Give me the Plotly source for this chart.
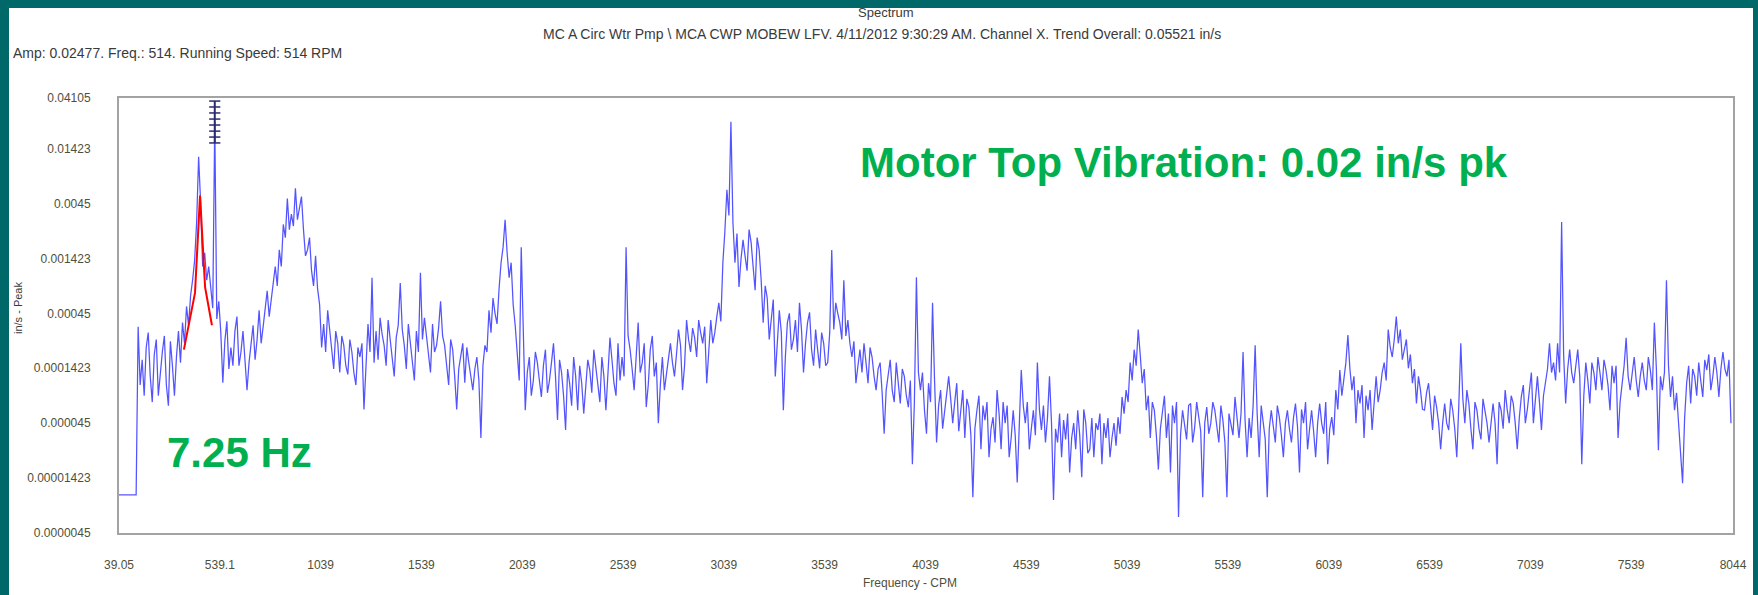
import plotly.graph_objects as go

# ---------------- data ----------------
freq_start = 34.0      # CPM of first spectral line
freq_step = 10.0       # CPM between lines

# amplitudes (in/s pk) on the even lines, one list per ~1000 CPM
amp_0_1000 = [1.0e-5, 1.0e-5, 1.0e-5, 1.0e-5, 1.0e-5, 3.4e-4, 1.7e-4, 2.2e-4, 1.2e-4, 1.9e-4,
              8.0e-5, 2.0e-4, 1.0e-4, 2.5e-4, 8.0e-5, 3.1e-4, 3.7e-4, 5.2e-4, 6.5e-4, 1.35e-3,
              1.2e-2, 1.2e-3, 9.0e-4, 7.2e-4, 2.477e-2, 5.8e-4, 1.05e-4, 3.8e-4, 2.2e-4, 3.1e-4,
              1.5e-4, 3.1e-4, 9.0e-5, 2.5e-4, 1.7e-4, 4.8e-4, 3.4e-4, 7.2e-4, 5.8e-4, 1.2e-3,
              1.7e-3, 2.9e-3, 5.0e-3, 3.6e-3, 6.2e-3, 4.3e-3, 2.6e-3, 1.7e-3, 1.1e-3, 1.5e-3]
amp_1000_2000 = [5.4e-4, 3.6e-4, 4.8e-4, 2.3e-4, 3.1e-4, 1.3e-4, 2.3e-4, 1.25e-4, 2.0e-4, 1.0e-4,
                 1.8e-4, 6.0e-5, 3.6e-4, 9.5e-4, 3.1e-4, 4.1e-4, 2.3e-4, 3.9e-4, 1.8e-4, 2.7e-4,
                 8.5e-4, 2.3e-4, 3.6e-4, 1.8e-4, 3.1e-4, 1.05e-3, 4.1e-4, 2.0e-4, 3.6e-4, 2.3e-4,
                 5.8e-4, 2.3e-4, 1.0e-4, 2.1e-4, 6.0e-5, 1.8e-4, 1.05e-4, 1.6e-4, 9.0e-5, 1.8e-4,
                 3.3e-5, 2.3e-4, 4.8e-4, 6.2e-4, 3.6e-4, 1.3e-3, 3.2e-3, 9.5e-4, 5.4e-4, 2.0e-4]
amp_2000_3000 = [1.8e-3, 5.9e-5, 1.8e-4, 1.1e-4, 1.6e-4, 7.8e-5, 2.1e-4, 1.1e-4, 2.4e-4, 4.8e-5,
                 1.3e-4, 3.9e-5, 1.04e-4, 1.8e-4, 5.9e-5, 1.04e-4, 9.0e-5, 1.37e-4, 2.1e-4, 1.04e-4,
                 1.8e-4, 5.9e-5, 2.7e-4, 1.04e-4, 2.4e-4, 1.8e-4, 1.8e-3, 2.1e-4, 9.0e-5, 3.7e-4,
                 1.6e-4, 6.3e-5, 2.1e-4, 1.2e-4, 4.5e-5, 1.8e-4, 1.3e-4, 2.4e-4, 1.2e-4, 3.2e-4,
                 9.0e-5, 3.9e-4, 2.0e-4, 2.7e-4, 3.9e-4, 2.4e-4, 1.04e-4, 3.9e-4, 3.0e-4, 5.6e-4]
amp_3000_4000 = [1.3e-3, 6.0e-3, 2.5e-2, 1.3e-3, 7.8e-4, 2.1e-3, 1.1e-3, 2.0e-3, 7.3e-4, 1.7e-3,
                 3.7e-4, 6.2e-4, 4.2e-4, 1.2e-4, 4.8e-4, 5.9e-5, 3.7e-4, 2.1e-4, 3.9e-4, 5.6e-4,
                 1.3e-4, 3.7e-4, 2.1e-4, 3.2e-4, 1.42e-4, 2.4e-4, 1.6e-4, 1.7e-3, 5.6e-4, 3.7e-4,
                 9.0e-4, 3.9e-4, 1.8e-4, 1.04e-4, 2.1e-4, 2.4e-4, 1.04e-4, 1.8e-4, 9.0e-5, 1.6e-4,
                 3.6e-5, 1.3e-4, 9.0e-5, 1.6e-4, 6.8e-5, 1.2e-4, 6.3e-5, 1.9e-5, 9.6e-4, 9.0e-5]
amp_4000_5000 = [5.9e-5, 1.04e-4, 5.6e-4, 3.0e-5, 9.0e-5, 5.9e-5, 1.2e-4, 4.5e-5, 1.04e-4, 5.9e-5,
                 3.3e-5, 6.3e-5, 9.5e-6, 5.9e-5, 2.6e-5, 4.8e-5, 2.2e-5, 5.1e-5, 9.0e-5, 2.6e-5,
                 4.5e-5, 2.2e-5, 5.9e-5, 1.3e-5, 1.37e-4, 4.5e-5, 2.6e-5, 5.9e-5, 1.6e-4, 3.9e-5,
                 3.0e-5, 1.2e-4, 9.0e-6, 3.0e-5, 2.2e-5, 3.2e-5, 1.6e-5, 4.5e-5, 5.9e-5, 1.45e-5,
                 4.5e-5, 2.6e-5, 2.2e-5, 3.9e-5, 1.9e-5, 3.3e-5, 2.2e-5, 4.5e-5, 5.1e-5, 7.8e-5]
amp_5000_6000 = [9.0e-5, 1.6e-4, 2.1e-4, 3.2e-4, 1.04e-4, 5.9e-5, 3.3e-5, 5.9e-5, 1.7e-5, 5.9e-5,
                 3.3e-5, 1.6e-5, 4.5e-5, 6.3e-6, 5.9e-5, 3.2e-5, 6.8e-5, 4.1e-5, 5.1e-5, 9.5e-6,
                 6.3e-5, 4.5e-5, 5.9e-5, 3.0e-5, 4.8e-5, 9.5e-6, 4.5e-5, 7.8e-5, 3.3e-5, 2.0e-4,
                 2.2e-5, 3.3e-5, 2.3e-4, 2.2e-5, 4.5e-5, 9.5e-6, 5.9e-5, 3.0e-5, 5.1e-5, 2.2e-5,
                 5.9e-5, 3.0e-5, 6.8e-5, 1.6e-5, 4.5e-5, 2.6e-5, 5.9e-5, 2.2e-5, 6.8e-5, 3.6e-5]
amp_6000_7000 = [1.9e-5, 5.1e-5, 9.0e-5, 1.37e-4, 1.2e-4, 2.85e-4, 9.0e-5, 4.5e-5, 6.8e-5, 3.3e-5,
                 5.9e-5, 3.9e-5, 1.2e-4, 9.0e-5, 1.6e-4, 3.2e-4, 1.8e-4, 4.2e-4, 3.2e-4, 2.1e-4,
                 1.42e-4, 1.04e-4, 6.8e-5, 9.0e-5, 5.9e-5, 1.04e-4, 3.9e-5, 6.3e-5, 2.6e-5, 6.8e-5,
                 3.9e-5, 5.9e-5, 2.2e-5, 2.4e-4, 4.5e-5, 6.8e-5, 2.6e-5, 5.9e-5, 3.2e-5, 5.9e-5,
                 3.0e-5, 6.8e-5, 1.9e-5, 5.9e-5, 9.0e-5, 4.5e-5, 6.8e-5, 2.6e-5, 7.8e-5, 4.5e-5]
amp_7000_8044 = [9.0e-5, 4.5e-5, 1.2e-4, 3.9e-5, 1.04e-4, 2.4e-4, 1.6e-4, 2.4e-4, 3.05e-3, 6.8e-5,
                 2.1e-4, 1.04e-4, 2.1e-4, 1.9e-5, 1.6e-4, 6.8e-5, 1.3e-4, 1.8e-4, 9.0e-5, 1.37e-4,
                 5.9e-5, 1.04e-4, 3.3e-5, 1.04e-4, 2.7e-4, 9.0e-5, 1.8e-4, 7.8e-5, 1.6e-4, 9.0e-5,
                 1.37e-4, 3.7e-4, 2.55e-5, 9.0e-5, 9.0e-4, 7.8e-5, 5.9e-5, 4.5e-5, 1.28e-5, 1.04e-4,
                 6.8e-5, 1.2e-4, 1.6e-4, 7.8e-5, 1.37e-4, 9.0e-5, 1.8e-4, 7.8e-5, 2.0e-4, 1.2e-4,
                 4.5e-5]

# amplitudes on the odd lines (between the even lines above)
mid_0_1000 = [1.0e-5, 1.0e-5, 1.0e-5, 1.0e-5, 1.0e-5, 1.0e-4, 8.0e-5, 3.0e-4, 7.0e-5, 2.6e-4,
              1.3e-4, 2.8e-4, 6.5e-5, 1.5e-4, 1.8e-4, 1.6e-4, 2.4e-4, 3.5e-4, 9.0e-4, 3.0e-3,
              4.5e-3, 1.6e-3, 1.2e-3, 5.0e-4, 4.0e-4, 3.0e-4, 2.5e-4, 1.4e-4, 1.5e-4, 4.2e-4,
              2.0e-4, 1.8e-4, 1.6e-4, 3.5e-4, 2.6e-4, 2.4e-4, 5.0e-4, 4.2e-4, 8.5e-4, 8.0e-4,
              1.2e-3, 2.2e-3, 2.6e-3, 2.8e-3, 3.2e-3, 5.2e-3, 1.5e-3, 2.2e-3, 8.0e-4, 7.5e-4]
mid_1000_2000 = [2.2e-4, 2.0e-4, 3.2e-4, 1.4e-4, 2.4e-4, 2.8e-4, 1.5e-4, 2.6e-4, 1.3e-4, 2.2e-4,
                 2.4e-4, 1.8e-4, 2.0e-4, 1.6e-4, 1.7e-4, 2.9e-4, 1.5e-4, 2.6e-4, 1.2e-4, 3.5e-4,
                 3.2e-4, 1.4e-4, 2.5e-4, 1.1e-4, 2.0e-4, 2.6e-4, 2.8e-4, 1.3e-4, 2.0e-4, 3.3e-4,
                 2.8e-4, 1.5e-4, 2.6e-4, 1.2e-4, 1.4e-4, 2.4e-4, 2.2e-4, 1.2e-4, 1.4e-4, 1.1e-4,
                 1.5e-4, 2.0e-4, 3.0e-4, 4.5e-4, 7.5e-4, 1.8e-3, 1.6e-3, 1.3e-3, 3.5e-4, 1.1e-4]
mid_2000_3000 = [2.4e-4, 1.3e-4, 8.0e-5, 2.0e-4, 1.1e-4, 1.5e-4, 8.5e-5, 1.6e-4, 1.2e-4, 1.7e-4,
                 8.0e-5, 1.4e-4, 6.5e-5, 1.2e-4, 1.5e-4, 5.5e-5, 1.7e-4, 8.5e-5, 1.4e-4, 7.0e-5,
                 1.2e-4, 1.5e-4, 1.7e-4, 8.0e-5, 1.1e-4, 1.2e-4, 2.8e-4, 1.4e-4, 1.8e-4, 1.3e-4,
                 2.4e-4, 1.0e-4, 2.8e-4, 1.6e-4, 1.0e-4, 9.0e-5, 1.9e-4, 1.6e-4, 1.9e-4, 2.3e-4,
                 1.5e-4, 2.6e-4, 3.3e-4, 1.8e-4, 3.0e-4, 3.4e-4, 2.0e-4, 2.4e-4, 4.2e-4, 3.8e-4]
mid_3000_4000 = [2.5e-3, 3.5e-3, 3.0e-3, 2.4e-3, 1.4e-3, 1.5e-3, 2.6e-3, 1.2e-3, 2.2e-3, 9.0e-4,
                 8.0e-4, 2.6e-4, 6.0e-4, 2.4e-4, 3.0e-4, 1.8e-4, 4.5e-4, 2.6e-4, 2.0e-4, 3.2e-4,
                 2.4e-4, 4.6e-4, 1.5e-4, 2.1e-4, 3.0e-4, 1.5e-4, 3.0e-4, 3.2e-4, 4.5e-4, 2.6e-4,
                 2.8e-4, 2.4e-4, 2.5e-4, 1.5e-4, 1.3e-4, 1.6e-4, 2.2e-4, 1.2e-4, 1.4e-4, 8.5e-5,
                 9.0e-5, 1.7e-4, 7.0e-5, 1.1e-4, 1.4e-4, 8.0e-5, 1.1e-4, 7.0e-5, 1.3e-4, 1.3e-4]
mid_4000_5000 = [3.6e-5, 7.0e-5, 1.1e-4, 6.5e-5, 4.0e-5, 8.5e-5, 7.5e-5, 7.0e-5, 3.8e-5, 9.0e-5,
                 7.5e-5, 3.5e-5, 4.0e-5, 8.0e-5, 6.5e-5, 7.0e-5, 4.0e-5, 3.0e-5, 5.5e-5, 7.0e-5,
                 6.5e-5, 3.3e-5, 3.5e-5, 5.0e-5, 6.5e-5, 7.0e-5, 4.0e-5, 3.5e-5, 6.0e-5, 6.5e-5,
                 5.0e-5, 4.5e-5, 4.0e-5, 5.5e-5, 4.8e-5, 5.5e-5, 3.3e-5, 2.6e-5, 3.5e-5, 6.0e-5,
                 2.4e-5, 5.0e-5, 4.5e-5, 5.5e-5, 4.5e-5, 5.0e-5, 3.3e-5, 2.8e-5, 3.6e-5, 5.5e-5]
mid_5000_6000 = [7.0e-5, 1.1e-4, 1.5e-4, 1.9e-4, 1.4e-4, 8.0e-5, 7.0e-5, 3.5e-5, 4.0e-5, 8.0e-5,
                 5.5e-5, 6.5e-5, 7.0e-5, 3.5e-5, 4.5e-5, 6.5e-5, 3.0e-5, 7.0e-5, 3.8e-5, 4.5e-5,
                 3.6e-5, 7.0e-5, 4.0e-5, 6.5e-5, 3.0e-5, 5.5e-5, 3.5e-5, 5.0e-5, 5.5e-5, 4.8e-5,
                 5.0e-5, 6.5e-5, 5.5e-5, 6.5e-5, 3.2e-5, 4.0e-5, 4.0e-5, 6.5e-5, 3.5e-5, 4.5e-5,
                 4.0e-5, 5.0e-5, 4.2e-5, 6.0e-5, 7.0e-5, 4.0e-5, 3.8e-5, 4.5e-5, 4.5e-5, 7.0e-5]
mid_6000_7000 = [4.0e-5, 3.5e-5, 6.0e-5, 8.0e-5, 1.6e-4, 1.4e-4, 1.2e-4, 9.0e-5, 1.0e-4, 8.0e-5,
                 9.0e-5, 7.5e-5, 7.0e-5, 1.3e-4, 1.1e-4, 2.2e-4, 2.6e-4, 2.4e-4, 1.7e-4, 2.6e-4,
                 1.9e-4, 1.4e-4, 1.2e-4, 6.0e-5, 8.5e-5, 6.5e-5, 8.0e-5, 4.5e-5, 4.5e-5, 4.5e-5,
                 7.5e-5, 4.0e-5, 6.5e-5, 7.5e-5, 9.0e-5, 4.0e-5, 7.0e-5, 4.0e-5, 7.5e-5, 4.5e-5,
                 4.8e-5, 4.5e-5, 7.0e-5, 4.0e-5, 6.0e-5, 8.0e-5, 4.5e-5, 5.0e-5, 1.0e-4, 6.0e-5]
mid_7000_8044 = [1.3e-4, 7.5e-5, 7.0e-5, 8.0e-5, 1.4e-4, 1.3e-4, 1.1e-4, 1.3e-4, 1.9e-4, 1.4e-4,
                 1.3e-4, 1.5e-4, 1.2e-4, 8.0e-5, 1.1e-4, 1.6e-4, 9.0e-5, 1.3e-4, 1.7e-4, 1.0e-4,
                 1.5e-4, 1.5e-4, 7.0e-5, 1.5e-4, 1.2e-4, 1.3e-4, 1.1e-4, 1.2e-4, 1.1e-4, 1.8e-4,
                 9.0e-5, 1.4e-4, 1.2e-4, 1.3e-4, 1.5e-4, 1.2e-4, 8.5e-5, 3.0e-5, 5.0e-5, 1.5e-4,
                 1.4e-4, 8.0e-5, 1.1e-4, 1.7e-4, 1.9e-4, 1.2e-4, 1.3e-4, 1.4e-4, 1.4e-4, 1.7e-4]

even_lines = (amp_0_1000 + amp_1000_2000 + amp_2000_3000 + amp_3000_4000 +
              amp_4000_5000 + amp_5000_6000 + amp_6000_7000 + amp_7000_8044)
odd_lines = (mid_0_1000 + mid_1000_2000 + mid_2000_3000 + mid_3000_4000 +
             mid_4000_5000 + mid_5000_6000 + mid_6000_7000 + mid_7000_8044)

amplitude = []
for k, a in enumerate(even_lines):
    amplitude.append(a)
    if k < len(odd_lines):
        amplitude.append(odd_lines[k])
frequency = [freq_start + freq_step * i for i in range(len(amplitude))]

# hand-drawn red peak outline near 7.25 Hz
red_freq = [361, 416, 441, 466, 500]
red_amp = [2.1e-4, 6.9e-4, 5.3e-3, 7.8e-4, 3.5e-4]

# cursor at running speed
cursor_freq = 514
cursor_amps = [0.0385, 0.0340, 0.0300, 0.0264, 0.0233, 0.0205, 0.0181, 0.0160]
cursor_foot_amp = 3.8e-6
scale_marker_freq = 9.0
scale_marker_amp = 0.037

x_tick_vals = [39.05, 539.1, 1039, 1539, 2039, 2539, 3039, 3539, 4039, 4539,
               5039, 5539, 6039, 6539, 7039, 7539, 8044]
x_tick_text = ["39.05", "539.1", "1039", "1539", "2039", "2539", "3039", "3539", "4039",
               "4539", "5039", "5539", "6039", "6539", "7039", "7539", "8044"]
y_tick_vals = [0.0000045, 0.00001423, 0.000045, 0.0001423, 0.00045, 0.001423,
               0.0045, 0.01423, 0.04105]
y_tick_text = ["0.0000045", "0.00001423", "0.000045", "0.0001423", "0.00045",
               "0.001423", "0.0045", "0.01423", "0.04105"]

# ---------------- layout helpers ----------------
W, H = 1758, 595
PL, PR, PT, PB = 119, 1733, 98, 533


def px_x(px):
    return (px - PL) / (PR - PL)


def px_y(py):
    return (PB - py) / (PB - PT)


small_font = "Liberation Sans, Arial, sans-serif"
text_col = "#4f4f3a"
head_col = "#3a3a3a"

fig = go.Figure()
fig.add_trace(go.Scatter(x=frequency, y=amplitude, mode="lines",
                         line=dict(color="rgba(40,40,255,0.8)", width=1.25),
                         hoverinfo="x+y", showlegend=False))
fig.add_trace(go.Scatter(x=red_freq, y=red_amp, mode="lines",
                         line=dict(color="#ff0000", width=2), showlegend=False))
fig.add_trace(go.Scatter(x=[cursor_freq] * len(cursor_amps), y=cursor_amps,
                         mode="lines+markers",
                         line=dict(color="#2a2a70", width=2),
                         marker=dict(symbol="line-ew", size=8,
                                     line=dict(color="#2a2a70", width=1.5)),
                         showlegend=False, cliponaxis=False))
fig.add_trace(go.Scatter(x=[cursor_freq], y=[cursor_foot_amp], mode="markers",
                         marker=dict(symbol="square", size=10, color="#0000d0"),
                         showlegend=False, cliponaxis=False))
fig.add_trace(go.Scatter(x=[scale_marker_freq], y=[scale_marker_amp], mode="markers",
                         marker=dict(symbol="triangle-up", size=10, color="#1818c0"),
                         showlegend=False, cliponaxis=False))

fig.update_layout(
    width=W, height=H, autosize=False,
    margin=dict(l=PL, r=W - PR, t=PT, b=H - PB),
    paper_bgcolor="#006868", plot_bgcolor="#ffffff",
    font=dict(family=small_font, size=12, color=text_col),
    shapes=[dict(type="rect", xref="paper", yref="paper", layer="below",
                 x0=px_x(9), x1=px_x(1753), y0=px_y(600), y1=px_y(8),
                 fillcolor="#ffffff", line=dict(width=0))],
    xaxis=dict(range=[39.05, 8044], tickmode="array", tickvals=x_tick_vals,
               ticktext=x_tick_text, showgrid=False, zeroline=False,
               showline=True, mirror=True, linecolor="#a3a3a3", linewidth=2,
               ticks="", ticklabelstandoff=20,
               tickfont=dict(family=small_font, size=12, color=text_col)),
    yaxis=dict(type="log", range=[-5.34679, -1.38669], tickmode="array",
               tickvals=y_tick_vals, ticktext=y_tick_text, showgrid=False,
               zeroline=False, showline=True, mirror=True, linecolor="#a3a3a3",
               linewidth=2, ticks="", ticklabelstandoff=24,
               tickfont=dict(family=small_font, size=12, color=text_col)),
    annotations=[
        dict(text="Spectrum", x=px_x(886), y=px_y(13), xref="paper", yref="paper",
             showarrow=False, xanchor="center", yanchor="middle",
             font=dict(family=small_font, size=13, color=head_col)),
        dict(text="MC A Circ Wtr Pmp \\ MCA CWP MOBEW LFV. 4/11/2012 9:30:29 AM. Channel X. Trend Overall: 0.05521 in/s",
             x=px_x(882), y=px_y(34), xref="paper", yref="paper",
             showarrow=False, xanchor="center", yanchor="middle",
             font=dict(family=small_font, size=14, color=head_col)),
        dict(text="Amp: 0.02477. Freq.: 514. Running Speed: 514 RPM",
             x=px_x(11), y=px_y(53), xref="paper", yref="paper",
             showarrow=False, xanchor="left", yanchor="middle",
             font=dict(family=small_font, size=14, color=head_col)),
        dict(text="in/s - Peak", x=px_x(18), y=px_y(308), xref="paper", yref="paper",
             showarrow=False, textangle=-90, xanchor="center", yanchor="middle",
             font=dict(family=small_font, size=11, color=head_col)),
        dict(text="Frequency - CPM", x=px_x(910), y=px_y(583), xref="paper", yref="paper",
             showarrow=False, xanchor="center", yanchor="middle",
             font=dict(family=small_font, size=12, color=text_col)),
        dict(text="<b>Motor Top Vibration: 0.02 in/s pk</b>", x=px_x(858), y=px_y(162),
             xref="paper", yref="paper", showarrow=False, xanchor="left", yanchor="middle",
             font=dict(family="Liberation Sans, Arial, sans-serif", size=42, color="#00b050")),
        dict(text="<b>7.25 Hz</b>", x=px_x(165), y=px_y(452),
             xref="paper", yref="paper", showarrow=False, xanchor="left", yanchor="middle",
             font=dict(family="Liberation Sans, Arial, sans-serif", size=42, color="#00b050")),
    ],
)

fig.write_html("out.html", config={"displayModeBar": False},
               post_script="document.body.style.margin='0px';")
